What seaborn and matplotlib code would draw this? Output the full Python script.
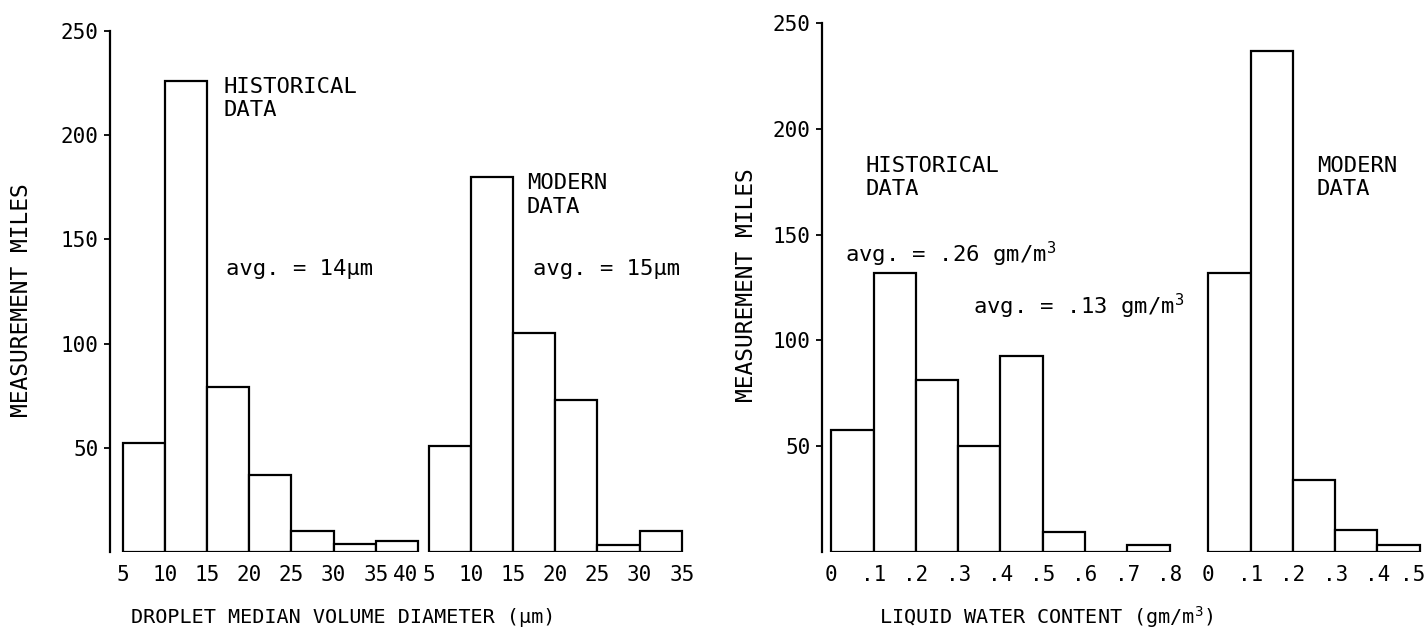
import numpy as np
import pandas as pd
import matplotlib
matplotlib.use("Agg")
import matplotlib.pyplot as plt
import matplotlib.transforms as mtransforms
import seaborn as sns

# droplet median volume diameter (um) - bin edges and measurement miles
drop_hist_edges = [5, 10, 15, 20, 25, 30, 35, 40]
drop_hist_miles = [52.5, 226, 79, 37, 10, 3.8, 5.3]
drop_mod_edges = [5, 10, 15, 20, 25, 30, 35]
drop_mod_miles = [51, 180, 105, 73, 3.2, 10.2]
drop_hist_labels = ["5", "10", "15", "20", "25", "30", "35", "40"]
drop_mod_labels = ["5", "10", "15", "20", "25", "30", "35"]

# liquid water content (gm/m3)
lwc_hist_edges = [0, .1, .2, .3, .4, .5, .6, .7, .8]
lwc_hist_miles = [57.5, 132, 81.5, 50, 92.5, 9.5, 0, 3.5]
lwc_mod_edges = [0, .1, .2, .3, .4, .5]
lwc_mod_miles = [132, 237, 34, 10.5, 3.5]
lwc_hist_labels = ["0", ".1", ".2", ".3", ".4", ".5", ".6", ".7", ".8"]
lwc_mod_labels = ["0", ".1", ".2", ".3", ".4", ".5"]

y_ticks = [50, 100, 150, 200, 250]

sns.set_theme(style="white")
plt.rcParams["font.family"] = ["DejaVu Sans Mono", "DejaVu Sans"]
plt.rcParams["mathtext.default"] = "regular"
plt.rcParams["text.color"] = "black"
plt.rcParams["axes.labelcolor"] = "black"


def place(edges, start):
    # each bin is one unit wide on the panel, groups side by side
    edges = np.array(edges, dtype=float)
    step = edges[1] - edges[0]
    return start + (edges - edges[0]) / step


def draw_group(ax, edges, miles, start):
    pos = place(edges, start)
    centres = (pos[:-1] + pos[1:]) / 2
    df = pd.DataFrame({"pos": centres, "miles": miles})
    sns.histplot(data=df, x="pos", weights="miles", bins=pos.tolist(), ax=ax,
                 color="white", edgecolor="black", linewidth=1.6, alpha=1)
    return pos


def style_axes(ax, ticks, labels, xmax):
    ax.set_xlim(0, xmax)
    ax.set_ylim(0, 250)
    ax.set_yticks(y_ticks)
    ax.set_xticks(ticks)
    ax.set_xticklabels(labels)
    for s in ["top", "right", "bottom"]:
        ax.spines[s].set_visible(False)
    ax.spines["left"].set_linewidth(1.6)
    ax.spines["left"].set_color("black")
    ax.tick_params(axis="x", length=0, pad=9, labelsize=15, colors="black")
    ax.tick_params(axis="y", direction="out", length=4, width=1.3, pad=4,
                   labelsize=15, colors="black", left=True)


fig = plt.figure(figsize=(14.26, 6.37), dpi=100)
ax1 = fig.add_axes([0.0771, 0.1334, 0.4054, 0.818])
ax2 = fig.add_axes([0.5764, 0.1334, 0.4213, 0.8305])

# left panel: droplet size
p1 = draw_group(ax1, drop_hist_edges, drop_hist_miles, 0.3)
p2 = draw_group(ax1, drop_mod_edges, drop_mod_miles, 7.55)
style_axes(ax1, list(p1) + list(p2), drop_hist_labels + drop_mod_labels, 13.7)
ax1.get_xticklabels()[7].set_ha("right")

ax1.set_ylabel("MEASUREMENT MILES", fontsize=16.5)
ax1.yaxis.set_label_coords(-0.133, 0.484)
ax1.set_xlabel("DROPLET MEDIAN VOLUME DIAMETER (µm)", fontsize=14.5, va="center")
ax1.xaxis.set_label_coords(0.403, -0.125)

ax1.text(2.68, 217.6, "HISTORICAL\nDATA", fontsize=16, va="center", ha="left")
ax1.text(2.75, 135.7, "avg. = 14µm", fontsize=16, va="center", ha="left")
ax1.text(9.88, 171.3, "MODERN\nDATA", fontsize=16, va="center", ha="left")
ax1.text(10.03, 135.7, "avg. = 15µm", fontsize=16, va="center", ha="left")

# right panel: liquid water content
q1 = draw_group(ax2, lwc_hist_edges, lwc_hist_miles, 0.22)
q2 = draw_group(ax2, lwc_mod_edges, lwc_mod_miles, 9.13)
style_axes(ax2, list(q1) + list(q2), lwc_hist_labels + lwc_mod_labels, 14.2)
last = ax2.get_xticklabels()[-1]
last.set_transform(last.get_transform() +
                   mtransforms.ScaledTranslation(-0.07, 0, fig.dpi_scale_trans))

ax2.set_ylabel("MEASUREMENT MILES", fontsize=16.5)
ax2.yaxis.set_label_coords(-0.106, 0.505)
ax2.set_xlabel("LIQUID WATER CONTENT (gm/m$^3$)", fontsize=14.5, va="center")
ax2.xaxis.set_label_coords(0.373, -0.123)

ax2.text(1.03, 177, "HISTORICAL\nDATA", fontsize=16, va="center", ha="left")
ax2.text(0.55, 137, "avg. = .26 gm/m$^3$", fontsize=16, va="baseline", ha="left")
ax2.text(3.57, 112.4, "avg. = .13 gm/m$^3$", fontsize=16, va="baseline", ha="left")
ax2.text(11.7, 177, "MODERN\nDATA", fontsize=16, va="center", ha="left")

fig.savefig("out.png", dpi=100, facecolor="white")
